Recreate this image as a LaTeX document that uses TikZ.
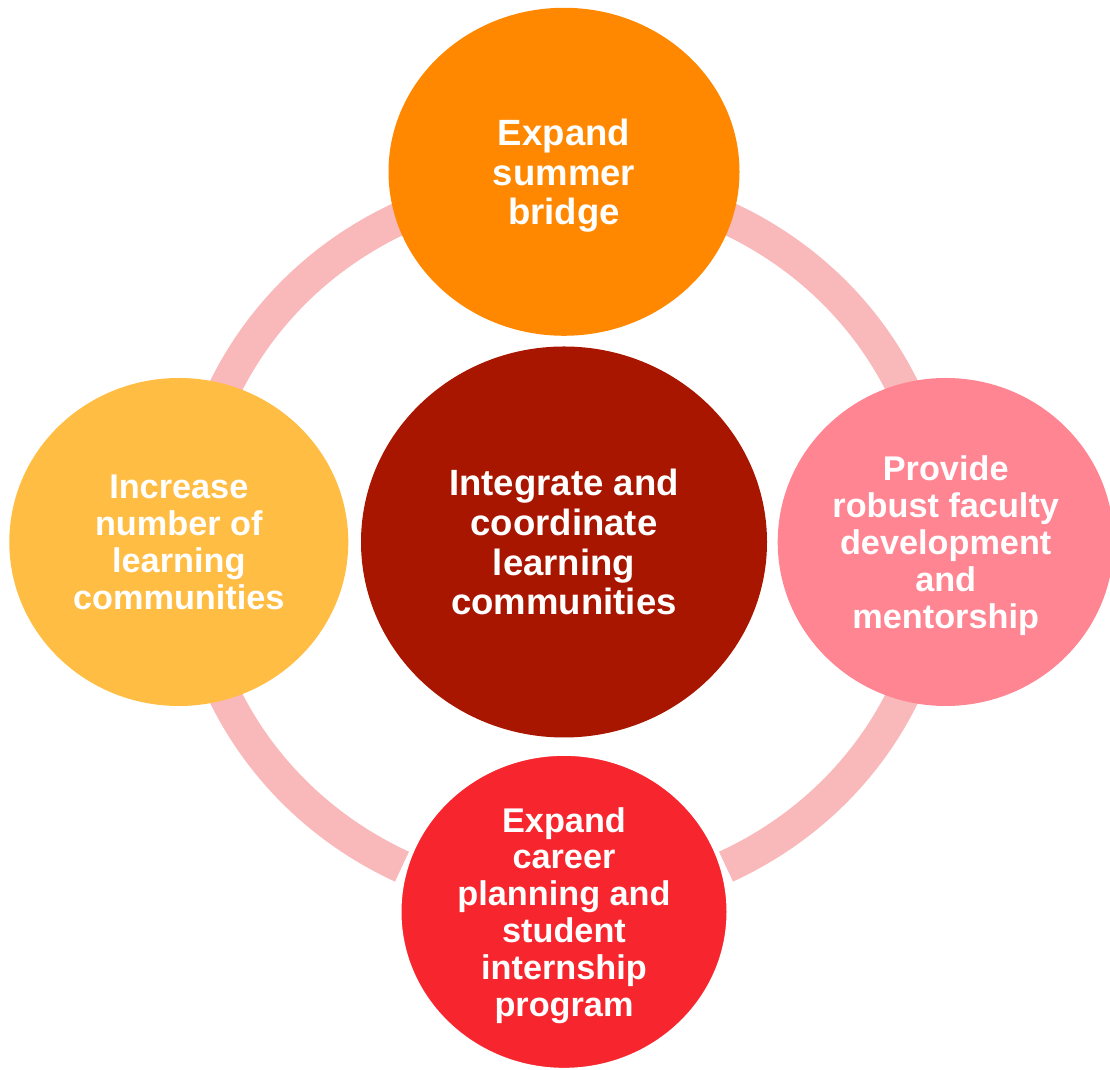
\documentclass[tikz,border=0pt]{standalone}
\usepackage{fontspec}
\setmainfont{Liberation Sans}
\usepackage{xcolor}
\usetikzlibrary{positioning, shapes.geometric}
\definecolor{ring_pink}{HTML}{F9B9BA}
\definecolor{hub_red}{HTML}{A81600}
\definecolor{top_orange}{HTML}{FF8800}
\definecolor{left_yellow}{HTML}{FFBD44}
\definecolor{right_pink}{HTML}{FF8593}
\definecolor{bottom_red}{HTML}{F7262E}

\begin{document}
\begin{tikzpicture}[
    % --- Global Settings ---
    % Bold white text for all nodes in the picture
    every node/.style={font=\bfseries, text=white}
  ]

  % --- Style Definitions ---
  \tikzset{
    % Style for the filled bubbles (no border, text centred)
    bubble/.style={
      ellipse,
      inner sep=0pt,
      text depth=0pt,
      align=center
    },
    % Text sizes (large for the hub and the top bubble)
    bigtext/.style={font=\bfseries\fontsize{20.8}{22.5}\selectfont},
    smalltext/.style={font=\bfseries\fontsize{19.5}{21}\selectfont},
    % Style for the pale ring joining the outer bubbles
    ringband/.style={
      draw=ring_pink,
      line width=0.66cm,
      line cap=butt
    }
  }

  % Fix the page to the size of the picture
  \useasboundingbox (0,0) rectangle (22.2,21.4);

  % --- Ring ---
  % Centre of the whole cycle
  \coordinate (hub) at (11.28, 10.56);
  % The ring stops short of the bottom bubble on both sides
  \draw[ringband] (hub) ++(-64.4:7.5cm and 7.2cm)
    arc[start angle=-64.4, end angle=244.4, x radius=7.5cm, y radius=7.2cm];

  % --- Node Placement ---
  % Central bubble
  \node[bubble, bigtext, fill=hub_red, minimum width=8.12cm, minimum height=7.82cm]
    (integrate) at (hub) {Integrate and\\coordinate\\learning\\communities};

  % Top bubble
  \node[bubble, bigtext, fill=top_orange, minimum width=7.02cm, minimum height=6.56cm]
    (summer) [above=0.2cm of integrate] {Expand\\summer\\bridge};

  % Left bubble
  \node[bubble, smalltext, fill=left_yellow, minimum width=6.78cm, minimum height=6.56cm]
    (increase) [left=0.24cm of integrate] {Increase\\number of\\learning\\communities};

  % Right bubble
  \node[bubble, smalltext, fill=right_pink, minimum width=6.72cm, minimum height=6.56cm]
    (faculty) [right=0.2cm of integrate] {Provide\\robust faculty\\development\\and\\mentorship};

  % Bottom bubble (thin white rim cuts the ring ends)
  \node[bubble, smalltext, fill=bottom_red, draw=white, line width=0.08cm,
      minimum width=6.58cm, minimum height=6.32cm]
    (career) [below=0.28cm of integrate] {Expand\\career\\planning and\\student\\internship\\program};

\end{tikzpicture}
\end{document}
